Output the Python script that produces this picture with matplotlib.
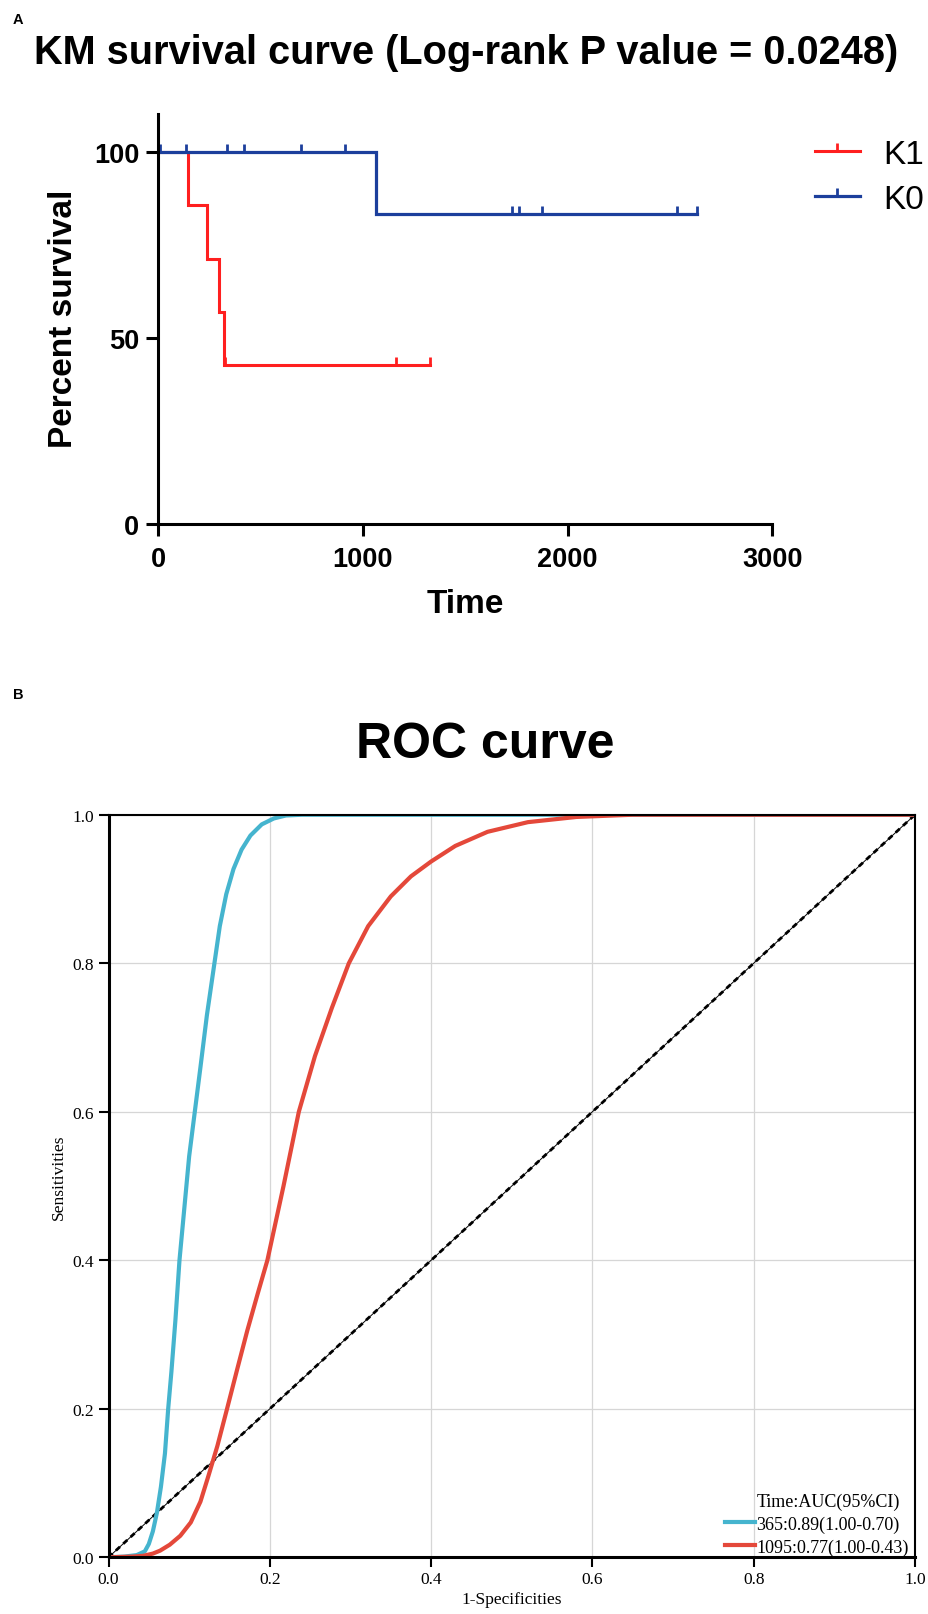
import matplotlib
matplotlib.use('Agg')
import matplotlib.pyplot as plt
from matplotlib.path import Path
from matplotlib.lines import Line2D

# ---------------- data: KM ----------------
k1_times = [0, 144, 237, 296, 322, 1328]
k1_surv = [100, 85.7, 71.4, 57.1, 42.9, 42.9]
k1_cens_t = [328, 1160, 1328]
k1_cens_s = [42.9, 42.9, 42.9]

k0_times = [0, 1065, 2632]
k0_surv = [100, 83.3, 83.3]
k0_cens_t = [6, 133, 335, 419, 699, 910, 1730, 1764, 1874, 2534, 2632]
k0_cens_s = [100, 100, 100, 100, 100, 100, 83.3, 83.3, 83.3, 83.3, 83.3]

km_xticks = [0, 1000, 2000, 3000]
km_yticks = [0, 50, 100]

# ---------------- data: ROC ----------------
roc365_fpr = [0.0, 0.02, 0.035, 0.045, 0.050, 0.055, 0.060, 0.065, 0.070, 0.074, 0.078,
              0.083, 0.088, 0.094, 0.100, 0.107, 0.114, 0.122, 0.130, 0.138, 0.146,
              0.155, 0.165, 0.176, 0.190, 0.205, 0.220, 0.240, 0.400, 1.0]
roc365_tpr = [0.0, 0.001, 0.003, 0.008, 0.018, 0.035, 0.060, 0.095, 0.140, 0.200, 0.250,
              0.320, 0.400, 0.470, 0.540, 0.600, 0.660, 0.730, 0.790, 0.850, 0.893,
              0.927, 0.953, 0.972, 0.987, 0.995, 0.999, 1.0, 1.0, 1.0]
roc1095_fpr = [0.0, 0.03, 0.043, 0.055, 0.064, 0.076, 0.089, 0.102, 0.114, 0.124, 0.135,
               0.147, 0.160, 0.172, 0.185, 0.197, 0.217, 0.236, 0.256, 0.277, 0.298,
               0.322, 0.350, 0.375, 0.400, 0.430, 0.470, 0.520, 0.580, 0.650, 1.0]
roc1095_tpr = [0.0, 0.001, 0.002, 0.005, 0.009, 0.017, 0.029, 0.047, 0.075, 0.110, 0.150,
               0.200, 0.255, 0.305, 0.355, 0.400, 0.500, 0.600, 0.675, 0.740, 0.800,
               0.850, 0.890, 0.917, 0.937, 0.958, 0.977, 0.990, 0.997, 1.0, 1.0]
roc_ticks = [0.0, 0.2, 0.4, 0.6, 0.8, 1.0]
roc_labels = ['Time:AUC(95%CI)', '365:0.89(1.00-0.70)', '1095:0.77(1.00-0.43)']

RED = '#FF1F1F'
BLUE = '#1C3F9C'
CYAN = '#45B4CE'
ORANGE = '#E4483A'

SANS = ['Liberation Sans', 'DejaVu Sans']
SERIF = ['Liberation Serif', 'DejaVu Serif']

fig = plt.figure(figsize=(9.29, 16.15), dpi=100)

# ---------------- panel A ----------------
ax = fig.add_axes([0.1704, 0.6749, 0.6609, 0.2539])
up_tick = Path([(0, 0), (0, 1)], [Path.MOVETO, Path.LINETO])

ax.step(k1_times, k1_surv, where='post', color=RED, lw=2.2, solid_joinstyle='miter')
ax.step(k0_times, k0_surv, where='post', color=BLUE, lw=2.3, solid_joinstyle='miter')
ax.plot(k1_cens_t, k1_cens_s, ls='none', marker=up_tick, ms=12, mew=2.0, color=RED)
ax.plot(k0_cens_t, k0_cens_s, ls='none', marker=up_tick, ms=12, mew=2.0, color=BLUE)

ax.set_xlim(0, 3000)
ax.set_ylim(0, 110.3)
ax.set_xticks(km_xticks)
ax.set_yticks(km_yticks)
for s in ['top', 'right']:
    ax.spines[s].set_visible(False)
for s in ['left', 'bottom']:
    ax.spines[s].set_linewidth(2.2)
ax.tick_params(length=8.6, width=2.2, direction='out')
ax.tick_params(axis='x', pad=7)
ax.tick_params(axis='y', pad=5)
for lab in ax.get_xticklabels() + ax.get_yticklabels():
    lab.set_fontfamily(SANS)
    lab.set_fontweight('bold')
    lab.set_fontsize(19.5)

ax.set_xlabel('Time', family=SANS, fontweight='bold', fontsize=24)
ax.set_ylabel('Percent survival', family=SANS, fontweight='bold', fontsize=24)
ax.xaxis.set_label_coords(0.5003, -0.1939)
ax.xaxis.label.set_va('center')
ax.yaxis.set_label_coords(-0.1536, 0.502)
ax.yaxis.label.set_va('center')

fig.text(466 / 929, 1 - 53 / 1615, 'KM survival curve (Log-rank P value = 0.0248)',
         family=SANS, fontweight='bold', fontsize=28.6, ha='center', va='center')

handles = [Line2D([], [], color=RED, lw=2.2, marker=up_tick, ms=12, mew=2.0),
           Line2D([], [], color=BLUE, lw=2.3, marker=up_tick, ms=12, mew=2.0)]
ax.legend(handles, ['K1', 'K0'], loc='upper left', frameon=False,
          bbox_to_anchor=(815 / 929, 1 - 140 / 1615), bbox_transform=fig.transFigure,
          prop={'family': SANS, 'size': 24}, handlelength=1.35, handletextpad=0.7,
          labelspacing=0.42, borderpad=0, borderaxespad=0, numpoints=1)

fig.text(18 / 929, 1 - 20 / 1615, 'A', family=SANS, fontweight='bold', fontsize=10.5,
         ha='center', va='center')

# ---------------- panel B ----------------
ax2 = fig.add_axes([0.1168, 0.0351, 0.8681, 0.4598])
ax2.set_axisbelow(True)
ax2.grid(True, color='#D6D6D6', lw=0.9)
ax2.plot([0, 1], [0, 1], color='black', lw=0.7)
ax2.plot([0, 1], [0, 1], color='black', lw=2.0, ls=(0, (2, 1.6)))
ax2.plot(roc365_fpr, roc365_tpr, color=CYAN, lw=3.0, solid_capstyle='round',
         solid_joinstyle='round')
ax2.plot(roc1095_fpr, roc1095_tpr, color=ORANGE, lw=3.0, solid_capstyle='round',
         solid_joinstyle='round')

ax2.set_xlim(0, 1)
ax2.set_ylim(0, 1)
ax2.set_xticks(roc_ticks)
ax2.set_yticks(roc_ticks)
ax2.set_xticklabels([f'{t:.1f}' for t in roc_ticks])
ax2.set_yticklabels([f'{t:.1f}' for t in roc_ticks])
for s in ['left', 'bottom']:
    ax2.spines[s].set_linewidth(2.2)
for s in ['top', 'right']:
    ax2.spines[s].set_linewidth(1.5)
ax2.tick_params(length=7.2, width=1.5, direction='out', pad=3)
for lab in ax2.get_xticklabels() + ax2.get_yticklabels():
    lab.set_fontfamily(SERIF)
    lab.set_fontsize(12.5)

ax2.set_xlabel('1-Specificities', family=SERIF, fontsize=12.5)
ax2.set_ylabel('Sensitivities', family=SERIF, fontsize=12.5)
ax2.xaxis.set_label_coords(0.5, -0.056)
ax2.xaxis.label.set_va('center')
ax2.yaxis.set_label_coords(-0.0614, 0.513)
ax2.yaxis.label.set_va('center')

fig.text(485 / 929, 1 - 745 / 1615, 'ROC curve', family=SANS, fontweight='bold',
         fontsize=36, ha='center', va='center')
fig.text(18 / 929, 1 - 695 / 1615, 'B', family=SANS, fontweight='bold', fontsize=10.5,
         ha='center', va='center')

h0 = Line2D([], [], color='none', lw=3.0)
h1 = Line2D([], [], color=CYAN, lw=3.0)
h2 = Line2D([], [], color=ORANGE, lw=3.0)
ax2.legend([h0, h1, h2], roc_labels, loc='lower left', frameon=False,
           bbox_to_anchor=(0.762, 0.0), prop={'family': SERIF, 'size': 13},
           handlelength=1.65, handletextpad=0.1, labelspacing=0.3, borderpad=0,
           borderaxespad=0.1)

fig.savefig('out.png', dpi=100)
